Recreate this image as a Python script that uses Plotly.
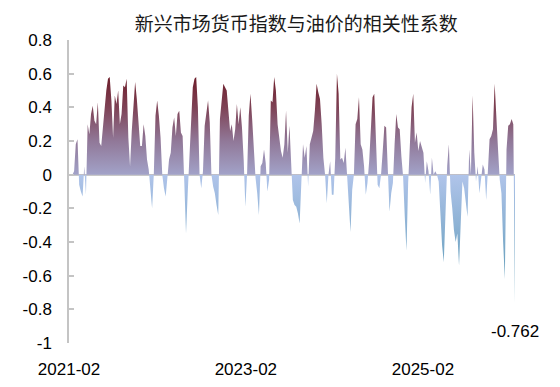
import pandas as pd
import plotly.graph_objects as go

title_text = "新兴市场货币指数与油价的相关性系数"
start_date = "2021-02-01"
corr_values = [
    0.0, 0.0, 0.0, 0.02, 0.18, 0.21, -0.06, -0.10, -0.13, 0.05, -0.12,
    0.30, 0.24, 0.36, 0.41, 0.32, 0.30, 0.43, 0.19, 0.17, 0.29,
    0.42, 0.50, 0.57, 0.58, 0.44, 0.22, 0.47, 0.42, 0.50, 0.30,
    0.36, 0.53, 0.52, 0.57, 0.22, 0.05, 0.26, 0.38, 0.55, 0.45,
    0.27, 0.17, 0.17, 0.30, 0.23, 0.09, 0.03, -0.10, -0.20, 0.0, 0.35,
    0.44, 0.35, 0.22, 0.0, -0.08, -0.13, -0.02, 0.09, 0.13,
    0.28, 0.34, 0.23, 0.36, 0.38, 0.25, 0.23, -0.05, -0.35, -0.11,
    0.10, 0.34, 0.52, 0.57, 0.58, 0.40, 0.0, -0.08, 0.02, 0.29,
    0.38, 0.44, 0.31, 0.0, -0.07, -0.11, -0.18, -0.24, 0.33, 0.45,
    0.54, 0.52, 0.50, 0.38, 0.26, 0.30, 0.20, 0.27, 0.42, 0.30,
    0.40, 0.28, 0.09, -0.19, 0.0, 0.35, 0.48, 0.33, 0.13, -0.02,
    -0.11, -0.24, 0.05, 0.07, 0.15, 0.07, -0.10, -0.03, 0.44, 0.43,
    0.58, 0.50, 0.30, 0.20, 0.14, 0.10, 0.18, 0.38, 0.13, 0.29,
    0.07, -0.15, -0.18, -0.19, -0.23, -0.29, -0.05, 0.18, 0.10, 0.17,
    -0.07, 0.18, 0.22, 0.26, 0.38, 0.54, 0.49, 0.45, 0.30, 0.10,
    0.0, -0.17, 0.0, 0.08, -0.12, -0.12, 0.10,
    0.60, 0.48, 0.09,
    0.10, 0.07, 0.16, -0.02, -0.14, -0.34, -0.09, 0.0, 0.30, 0.33,
    0.46, 0.18, 0.15, 0.05, -0.12, -0.05, 0.08, 0.28, 0.46, 0.48,
    0.22, -0.06, -0.08, 0.0, 0.14, 0.29, 0.28, 0.0, -0.22, -0.11,
    -0.05, 0.18, 0.36, 0.28, 0.27, 0.11, -0.01, -0.25, -0.45, -0.05,
    0.22, 0.40, 0.48, 0.19, 0.25, 0.14, 0.20, 0.16, 0.13, -0.05,
    0.08, 0.02, -0.12, 0.10, 0.0, 0.02, 0.0, -0.04, -0.22, -0.42,
    -0.52, -0.20, 0.05, 0.18, -0.10, -0.20, -0.33, -0.40, -0.35, -0.54,
    -0.25, -0.04, -0.08, -0.15, -0.25, 0.15, 0.0, 0.47, 0.13, -0.04,
    0.05, -0.11, -0.02, 0.06, 0.03, -0.15, 0.02, 0.21, 0.23, 0.27,
    0.54, 0.30, 0.15, -0.03, -0.11, -0.40, -0.62, 0.15, 0.29, 0.30,
    0.33, 0.30, -0.762,
]
dates = pd.date_range(start=start_date, periods=len(corr_values), freq="7D")

x_tick_vals = ["2021-02-01", "2023-02-01", "2025-02-01"]
x_tick_text = ["2021-02", "2023-02", "2025-02"]
y_tick_vals = [0.8, 0.6, 0.4, 0.2, 0, -0.2, -0.4, -0.6, -0.8, -1]
y_tick_text = ["0.8", "0.6", "0.4", "0.2", "0", "-0.2", "-0.4", "-0.6", "-0.8", "-1"]
last_label = "-0.762"

g_lo, g_hi = -0.8, 0.62
def t(v):
    return (v - g_lo) / (g_hi - g_lo)

colorscale = [
    [0.0, "#4790aa"],
    [t(-0.3), "#8db2d4"],
    [t(-0.001), "#b0c4ea"],
    [t(0.001), "#a2a2c8"],
    [t(0.2), "#917898"],
    [t(0.4), "#7e4255"],
    [1.0, "#6a1521"],
]

fig = go.Figure()
fig.add_trace(go.Scatter(
    x=dates, y=corr_values, mode="lines",
    line=dict(width=0, color="rgba(0,0,0,0)"),
    fill="tozeroy",
    fillgradient=dict(type="vertical", colorscale=colorscale, start=g_lo, stop=g_hi),
    hoverinfo="skip", showlegend=False,
))

fig.add_annotation(
    x=dates[-1], y=corr_values[-1], text=last_label, showarrow=False,
    xref="x", yref="y", yshift=-29, xshift=0,
    font=dict(family="Liberation Sans, Arial, sans-serif", size=17, color="#000000"),
)

fig.update_layout(
    width=560, height=387,
    margin=dict(l=69, r=45, t=40, b=44),
    paper_bgcolor="white", plot_bgcolor="white",
    title=dict(text=title_text, x=0.529, xanchor="center", y=0.938, yanchor="middle",
               font=dict(family="Noto Sans CJK SC", size=19, color="#1a1a1a")),
    font=dict(family="Liberation Sans, Arial, sans-serif", size=17, color="#000000"),
)
fig.update_xaxes(
    range=[dates[0], dates[-1]], automargin=False,
    tickmode="array", tickvals=x_tick_vals, ticktext=x_tick_text,
    showgrid=False, zeroline=False, showline=False, ticks="",
    ticklabelstandoff=14,
)
fig.update_yaxes(
    range=[-1, 0.8], automargin=False,
    tickmode="array", tickvals=y_tick_vals, ticktext=y_tick_text,
    showgrid=False, zeroline=True, zerolinecolor="#c8c8c8", zerolinewidth=2,
    showline=True, linecolor="#c4c4c4", linewidth=1.5,
    ticks="inside", ticklen=5, tickcolor="#c4c4c4", tickwidth=1.5,
    ticklabelstandoff=12,
)

fig.write_html("out.html", config={"displayModeBar": False},
               post_script="document.body.style.margin='0px';")
